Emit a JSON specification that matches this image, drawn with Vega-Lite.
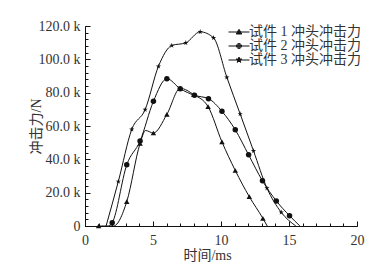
{
  "$schema": "https://vega.github.io/schema/vega-lite/v6.json",
  "width": 272,
  "height": 200,
  "autosize": "none",
  "padding": {"left": 85, "top": 26, "right": 22, "bottom": 42},
  "background": "white",
  "config": {
    "view": {"stroke": null},
    "font": "Liberation Serif, Noto Sans CJK SC",
    "axis": {
      "grid": false,
      "domainColor": "#111",
      "labelColor": "#333",
      "titleColor": "#333",
      "labelFont": "Liberation Serif, Noto Sans CJK SC",
      "titleFont": "Liberation Serif, Noto Sans CJK SC",
      "labelFontSize": 14,
      "titleFontSize": 14,
      "titleFontWeight": "normal",
      "labelOverlap": false,
      "labelFlush": false
    }
  },
  "data": {
    "values": [
      {"s": "试件 1 冲头冲击力", "t": 1.0, "f": 0, "m": true},
      {"s": "试件 1 冲头冲击力", "t": 2.1, "f": 0, "m": false},
      {"s": "试件 1 冲头冲击力", "t": 3.07, "f": 14600, "m": true},
      {"s": "试件 1 冲头冲击力", "t": 4.05, "f": 49500, "m": true},
      {"s": "试件 1 冲头冲击力", "t": 4.45, "f": 57300, "m": false},
      {"s": "试件 1 冲头冲击力", "t": 5.03, "f": 55800, "m": true},
      {"s": "试件 1 冲头冲击力", "t": 6.02, "f": 67000, "m": true},
      {"s": "试件 1 冲头冲击力", "t": 7.0, "f": 82600, "m": true},
      {"s": "试件 1 冲头冲击力", "t": 8.0, "f": 78800, "m": true},
      {"s": "试件 1 冲头冲击力", "t": 9.05, "f": 71600, "m": true},
      {"s": "试件 1 冲头冲击力", "t": 10.07, "f": 50500, "m": true},
      {"s": "试件 1 冲头冲击力", "t": 11.05, "f": 33300, "m": true},
      {"s": "试件 1 冲头冲击力", "t": 12.08, "f": 17600, "m": true},
      {"s": "试件 1 冲头冲击力", "t": 13.08, "f": 4600, "m": true},
      {"s": "试件 1 冲头冲击力", "t": 13.4, "f": 0, "m": false},
      {"s": "试件 2 冲头冲击力", "t": 1.75, "f": 0, "m": false},
      {"s": "试件 2 冲头冲击力", "t": 2.0, "f": 2000, "m": true},
      {"s": "试件 2 冲头冲击力", "t": 3.07, "f": 36700, "m": true},
      {"s": "试件 2 冲头冲击力", "t": 4.05, "f": 51000, "m": true},
      {"s": "试件 2 冲头冲击力", "t": 5.03, "f": 74800, "m": true},
      {"s": "试件 2 冲头冲击力", "t": 6.02, "f": 88400, "m": true},
      {"s": "试件 2 冲头冲击力", "t": 7.0, "f": 82400, "m": true},
      {"s": "试件 2 冲头冲击力", "t": 8.05, "f": 78400, "m": true},
      {"s": "试件 2 冲头冲击力", "t": 9.08, "f": 76400, "m": true},
      {"s": "试件 2 冲头冲击力", "t": 10.07, "f": 68800, "m": true},
      {"s": "试件 2 冲头冲击力", "t": 11.05, "f": 57700, "m": true},
      {"s": "试件 2 冲头冲击力", "t": 12.03, "f": 42700, "m": true},
      {"s": "试件 2 冲头冲击力", "t": 13.05, "f": 27100, "m": true},
      {"s": "试件 2 冲头冲击力", "t": 14.07, "f": 15000, "m": true},
      {"s": "试件 2 冲头冲击力", "t": 15.04, "f": 6200, "m": true},
      {"s": "试件 2 冲头冲击力", "t": 15.8, "f": 0, "m": false},
      {"s": "试件 3 冲头冲击力", "t": 1.55, "f": 0, "m": false},
      {"s": "试件 3 冲头冲击力", "t": 2.45, "f": 26700, "m": true},
      {"s": "试件 3 冲头冲击力", "t": 3.44, "f": 58000, "m": true},
      {"s": "试件 3 冲头冲击力", "t": 4.42, "f": 69800, "m": true},
      {"s": "试件 3 冲头冲击力", "t": 5.4, "f": 95800, "m": true},
      {"s": "试件 3 冲头冲击力", "t": 6.38, "f": 108300, "m": true},
      {"s": "试件 3 冲头冲击力", "t": 7.41, "f": 109900, "m": true},
      {"s": "试件 3 冲头冲击力", "t": 8.47, "f": 116500, "m": true},
      {"s": "试件 3 冲头冲击力", "t": 9.45, "f": 112900, "m": true},
      {"s": "试件 3 冲头冲击力", "t": 10.43, "f": 89200, "m": true},
      {"s": "试件 3 冲头冲击力", "t": 11.41, "f": 67200, "m": true},
      {"s": "试件 3 冲头冲击力", "t": 12.39, "f": 45100, "m": true},
      {"s": "试件 3 冲头冲击力", "t": 13.38, "f": 22700, "m": true},
      {"s": "试件 3 冲头冲击力", "t": 14.43, "f": 8200, "m": true},
      {"s": "试件 3 冲头冲击力", "t": 15.5, "f": 0, "m": false}
    ]
  },
  "layer": [
    {
      "mark": {"type": "line", "interpolate": "monotone", "color": "#111", "strokeWidth": 1},
      "encoding": {
        "x": {
          "field": "t", "type": "quantitative",
          "scale": {"domain": [0, 20], "nice": false, "zero": false},
          "axis": {
            "orient": "top",
            "offset": -200,
            "title": null,
            "labels": false,
            "domain": false,
            "ticks": true,
            "tickColor": "#111",
            "tickWidth": 1,
            "values": [0,1,2,3,4,5,6,7,8,9,10,11,12,13,14,15,16,17,18,19,20],
            "tickSize": 3
          }
        },
        "y": {
          "field": "f", "type": "quantitative",
          "scale": {"domain": [0, 120000], "nice": false},
          "axis": {
            "orient": "right",
            "offset": -272,
            "title": null,
            "labels": false,
            "domain": false,
            "ticks": true,
            "tickColor": "#111",
            "tickWidth": 1,
            "values": [0,4000,8000,12000,16000,20000,24000,28000,32000,36000,40000,44000,48000,52000,56000,60000,64000,68000,72000,76000,80000,84000,88000,92000,96000,100000,104000,108000,112000,116000,120000],
            "tickSize": 3
          }
        },
        "detail": {"field": "s", "type": "nominal"}
      }
    },
    {
      "transform": [{"filter": "datum.m"}],
      "mark": {"type": "point", "filled": true, "color": "#111", "opacity": 1, "size": 30},
      "encoding": {
        "x": {
          "field": "t", "type": "quantitative",
          "axis": {
            "orient": "bottom",
            "title": "时间/ms",
            "values": [0, 5, 10, 15, 20],
            "ticks": false,
            "labelPadding": 7,
            "titlePadding": 1,
            "titleX": 122
          }
        },
        "y": {
          "field": "f", "type": "quantitative",
          "axis": {
            "orient": "left",
            "title": "冲击力/N",
            "values": [0, 20000, 40000, 60000, 80000, 100000, 120000],
            "labelExpr": "datum.value === 0 ? '0' : format(datum.value / 1000, '.1f') + ' k'",
            "ticks": false,
            "labelPadding": 5,
            "titlePadding": -5
          }
        },
        "shape": {
          "field": "s", "type": "nominal",
          "scale": {
            "domain": ["试件 1 冲头冲击力", "试件 2 冲头冲击力", "试件 3 冲头冲击力"],
            "range": ["triangle-up", "circle", "M0,-1L0.2245,-0.309L0.951,-0.309L0.363,0.118L0.588,0.809L0,0.382L-0.588,0.809L-0.363,0.118L-0.951,-0.309L-0.2245,-0.309Z"]
          },
          "legend": null
        }
      }
    },
    {
      "transform": [{"filter": "datum.t < 0"}],
      "mark": {"type": "point", "filled": false, "color": "#111", "opacity": 1, "size": 100},
      "encoding": {
        "x": {
          "field": "t", "type": "quantitative",
          "axis": {
            "orient": "top",
            "offset": -200,
            "title": null,
            "labels": false,
            "domain": false,
            "ticks": true,
            "tickColor": "#111",
            "tickWidth": 1,
            "values": [0, 5, 10, 15, 20],
            "tickSize": 5
          }
        },
        "y": {
          "field": "f", "type": "quantitative",
          "axis": {
            "orient": "right",
            "offset": -272,
            "title": null,
            "labels": false,
            "domain": false,
            "ticks": true,
            "tickColor": "#111",
            "tickWidth": 1,
            "values": [0, 20000, 40000, 60000, 80000, 100000, 120000],
            "tickSize": 5
          }
        },
        "shape": {
          "field": "s", "type": "nominal",
          "scale": {
            "domain": ["试件 1 冲头冲击力", "试件 2 冲头冲击力", "试件 3 冲头冲击力"],
            "range": [
              "M-2.1,0L2.1,0M-0.55,0.4L0,-0.55L0.55,0.4ZM-0.363,0.292L0,-0.335L0.363,0.292ZM-0.18,0.188L0,-0.126L0.18,0.188Z",
              "M-2.1,0L2.1,0M-0.5,0A0.5,0.5,0,1,0,0.5,0A0.5,0.5,0,1,0,-0.5,0ZM-0.32,0A0.32,0.32,0,1,0,0.32,0A0.32,0.32,0,1,0,-0.32,0ZM-0.14,0A0.14,0.14,0,1,0,0.14,0A0.14,0.14,0,1,0,-0.14,0Z",
              "M-2.1,0L2.1,0M0,-0.6L0.135,-0.185L0.571,-0.185L0.218,0.071L0.353,0.485L0,0.229L-0.353,0.485L-0.218,0.071L-0.571,-0.185L-0.135,-0.185ZM0,-0.35L0.079,-0.108L0.333,-0.108L0.127,0.041L0.206,0.283L0,0.134L-0.206,0.283L-0.127,0.041L-0.333,-0.108L-0.079,-0.108ZM0,-0.15L0.143,-0.046L0.088,0.121L-0.088,0.121L-0.143,-0.046Z"
            ]
          },
          "legend": {
            "title": null,
            "orient": "none",
            "legendX": 147,
            "legendY": -1,
            "symbolSize": 100,
            "symbolStrokeColor": "#111",
            "symbolStrokeWidth": 1,
            "labelFont": "Liberation Serif, Noto Sans CJK SC",
            "labelFontSize": 14,
            "labelColor": "#333",
            "labelOffset": 3,
            "rowPadding": 0,
            "padding": 0
          }
        }
      }
    }
  ],
  "resolve": {
    "scale": {"shape": "independent"},
    "axis": {"x": "independent", "y": "independent"}
  }
}
